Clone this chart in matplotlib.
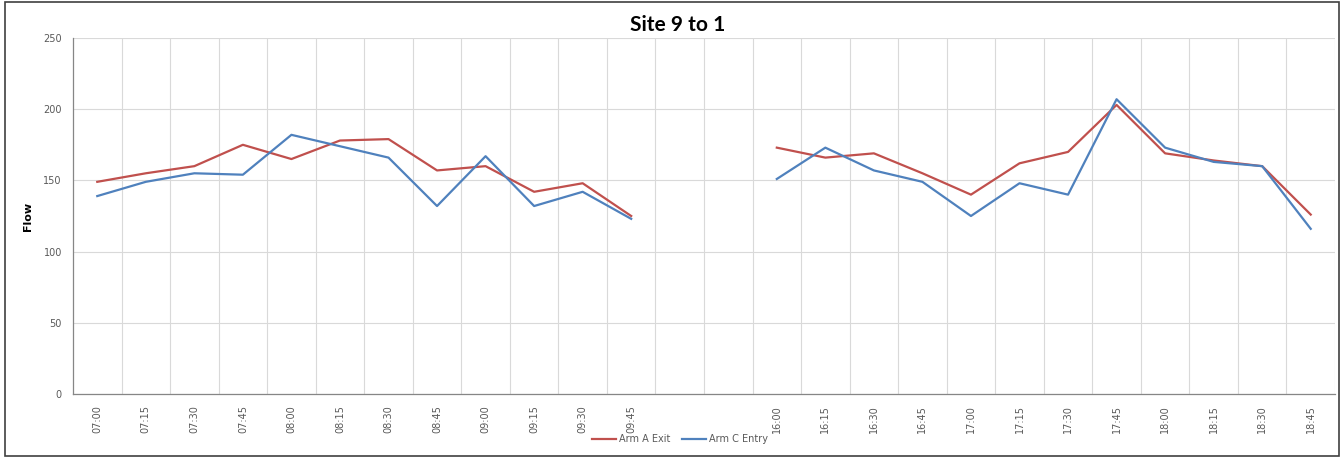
import numpy as np
import matplotlib
matplotlib.use("Agg")
import matplotlib.pyplot as plt
from matplotlib.patches import Rectangle
from matplotlib.ticker import FixedLocator

times = ["07:00", "07:15", "07:30", "07:45", "08:00", "08:15", "08:30", "08:45",
         "09:00", "09:15", "09:30", "09:45", "", "",
         "16:00", "16:15", "16:30", "16:45", "17:00", "17:15", "17:30", "17:45",
         "18:00", "18:15", "18:30", "18:45"]
nan = np.nan
arm_a_exit = [149, 155, 160, 175, 165, 178, 179, 157, 160, 142, 148, 125, nan, nan,
              173, 166, 169, 155, 140, 162, 170, 203, 169, 164, 160, 126]
arm_c_entry = [139, 149, 155, 154, 182, 174, 166, 132, 167, 132, 142, 123, nan, nan,
               151, 173, 157, 149, 125, 148, 140, 207, 173, 163, 160, 116]

W, H = 1341, 457
fig = plt.figure(figsize=(W / 100, H / 100), dpi=100)
ax = fig.add_axes([73 / W, 1 - 394 / H, (1335 - 73) / W, (394 - 38) / H])

x = np.arange(len(times))
ax.plot(x, arm_a_exit, color="#C0504D", lw=1.6, label="Arm A Exit")
ax.plot(x, arm_c_entry, color="#4F81BD", lw=1.6, label="Arm C Entry")

ax.set_xlim(-0.5, len(times) - 0.5)
ax.set_ylim(0, 250)
ax.set_yticks(np.arange(0, 251, 50))
ax.set_xticks(x)
ax.set_xticklabels(times, rotation=90, fontsize=7, color="#595959")
ax.xaxis.set_minor_locator(FixedLocator(np.arange(0.5, len(times), 1)))
ax.tick_params(axis="y", labelsize=7, labelcolor="#595959", length=0, pad=8)
ax.tick_params(axis="x", which="both", length=0, pad=8)
ax.grid(axis="y", color="#D9D9D9", lw=0.8)
ax.grid(axis="x", which="minor", color="#D9D9D9", lw=0.8)
ax.set_axisbelow(True)
for s in ["top", "right"]:
    ax.spines[s].set_visible(False)
for s in ["left", "bottom"]:
    ax.spines[s].set_color("#868686")
    ax.spines[s].set_linewidth(0.9)

fig.text(28 / W, 1 - 216 / H, "Flow", rotation=90, ha="center", va="center",
         fontsize=8, fontweight="bold")
fig.text(678 / W, 1 - 25 / H, "Site 9 to 1", ha="center", va="center",
         fontsize=15, fontweight="bold", family="Lato")

fig.legend(loc="center", bbox_to_anchor=(680 / W, 1 - 439 / H), ncol=2, frameon=False,
           fontsize=7, handlelength=2.5, columnspacing=1.2, handletextpad=0.3,
           labelcolor="#595959")

fig.patches.append(Rectangle((5 / W, 1 / H), (1339 - 5) / W, (456 - 2) / H,
                             transform=fig.transFigure, fill=False,
                             edgecolor="#404040", lw=1.2))

fig.savefig("out.png", dpi=100)
